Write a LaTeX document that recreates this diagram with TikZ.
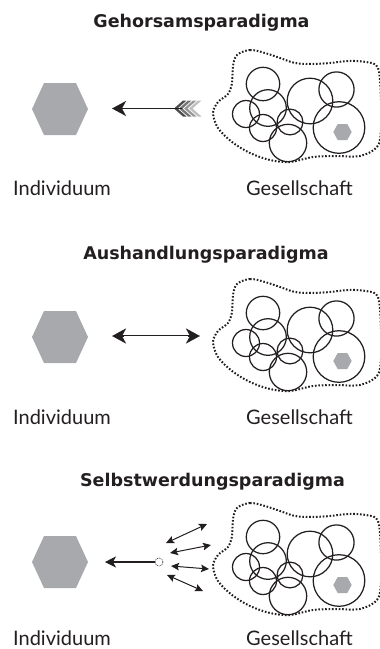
\documentclass[tikz,border=0pt]{standalone}
\usepackage{fontspec}
\setmainfont{Lato}
\newfontfamily\titlefont{DejaVu Sans}
\usetikzlibrary{arrows.meta}
\definecolor{hexgray}{RGB}{167,169,172}
\definecolor{inkblack}{RGB}{35,31,32}
\tikzset{
  hexfill/.style={fill=hexgray, draw=none},
  member/.style={draw=inkblack, line width=1.25pt},
  blobline/.style={draw=inkblack, line width=2pt, dash pattern=on 1.6pt off 1.8pt},
  paneltitle/.style={font=\titlefont\bfseries\fontsize{17.5}{20}\selectfont, anchor=base, inner sep=0pt, text=inkblack},
  lbl/.style={font=\fontsize{20}{24}\selectfont, anchor=base, inner sep=0pt, text=inkblack},
  bigtip/.tip={Stealth[length=14pt,width=15pt,inset=4pt]},
  midtip/.tip={Stealth[length=11pt,width=11pt,inset=3pt]},
  smalltip/.tip={Stealth[length=8pt,width=7.5pt,inset=1.5pt]},
  shaft/.style={draw=inkblack, line width=1.6pt},
  thinshaft/.style={draw=inkblack, line width=1.1pt},
  fanshaft/.style={draw=inkblack, line width=1pt, {smalltip}-{smalltip}},
}
\newcommand{\bighex}[1]{\fill[hexfill] (#1) +(-28,0) -- +(-16,-26) -- +(16,-26) -- +(28,0) -- +(16,26) -- +(-16,26) -- cycle;}
\newcommand{\smallhex}[1]{\fill[hexfill] (#1) +(-9.2,0) -- +(-4.8,-8) -- +(4.8,-8) -- +(9.2,0) -- +(4.8,8) -- +(-4.8,8) -- cycle;}
\newcommand{\society}[1]{%
  \draw[blobline] plot[smooth cycle, tension=0.55] coordinates {(237,55) (250,50) (265,53) (280,58) (295,63) (312,64) (330,63) (348,61) (366,62) (378,68) (381,100) (381,130) (377,147) (360,156) (335,156) (313,157) (290,162) (270,160) (250,153) (232,142) (218,128) (213,113) (218,102) (228,94) (232,83) (233,66)};
  \foreach \cx/\cy/\r in {263/84/16.7, 268/108/18.3, 246/114/13.5, 263/128/13.5, 290/122/12.9, 288/143/18.7, 310/101/22.8, 336.5/89.5/17.6, 339/127.5/25.8}
    \draw[member] (\cx,\cy) circle[radius=\r pt];
  \coordinate (#1hex) at (342.5,132);
  \smallhex{#1hex}
}
\begin{document}
\begin{tikzpicture}[x=1pt,y=-1pt]
\useasboundingbox (0,0) rectangle (380,649);
\clip (0,0) rectangle (380,649);

% ---------- Panel 1 ----------
\begin{scope}
  \node[paneltitle] (t1) at (201.5,27.3) {Gehorsamsparadigma};
  \coordinate (ind1) at (60,109);
  \bighex{ind1}
  \society{s1}
  \node[lbl] (li1) at (62,195) {Individuum};
  \node[lbl] (lg1) at (299.5,195) {Gesellschaft};
  \coordinate (a1tail) at (182,108.5);
  \coordinate (a1tip) at (112,108.5);
  \foreach \i/\c in {3/25,2/40,1/55,0/70}{
    \pgfmathsetmacro{\tx}{174+5*\i}
    \fill[black!\c] (\tx,108.5) -- (\tx+9,100.5) -- (\tx+12.5,100.5) -- (\tx+3.5,108.5) -- (\tx+12.5,116.5) -- (\tx+9,116.5) -- cycle;
  }
  \draw[shaft,-{bigtip}] (a1tail) -- (a1tip);
\end{scope}

% ---------- Panel 2 ----------
\begin{scope}[yshift=-229pt]
  \node[paneltitle] (t2) at (206,30.3) {Aushandlungsparadigma};
  \coordinate (ind2) at (60,108);
  \bighex{ind2}
  \society{s2}
  \node[lbl] (li2) at (62,195) {Individuum};
  \node[lbl] (lg2) at (299.5,195) {Gesellschaft};
  \coordinate (a2l) at (112,107);
  \coordinate (a2r) at (200,107);
  \draw[draw=inkblack, line width=2.6pt, {bigtip}-{bigtip}] (a2l) -- (a2r);
  \draw[white, line width=0.9pt, shorten <=12pt, shorten >=12pt] (a2l) -- (a2r);
\end{scope}

% ---------- Panel 3 ----------
\begin{scope}[yshift=-453pt]
  \node[paneltitle] (t3) at (212.5,33.7) {Selbstwerdungsparadigma};
  \coordinate (ind3) at (60,109);
  \bighex{ind3}
  \society{s3}
  \node[lbl] (li3) at (62,192.5) {Individuum};
  \node[lbl] (lg3) at (299.5,192.5) {Gesellschaft};
  \node[circle, draw=inkblack, line width=0.6pt, dash pattern=on 0.9pt off 0.9pt, minimum size=8pt, inner sep=0pt] (src) at (159,109) {};
  \coordinate (a3tip) at (105,109);
  \draw[thinshaft,-{midtip}] (src.west) -- (a3tip);
  \coordinate (f1a) at (166,90);  \coordinate (f1b) at (207,71);
  \coordinate (f2a) at (170,100); \coordinate (f2b) at (211,92);
  \coordinate (f3a) at (171,113); \coordinate (f3b) at (209,116);
  \coordinate (f4a) at (167,122); \coordinate (f4b) at (203,138);
  \draw[fanshaft] (f1a) -- (f1b);
  \draw[fanshaft] (f2a) -- (f2b);
  \draw[fanshaft] (f3a) -- (f3b);
  \draw[fanshaft] (f4a) -- (f4b);
\end{scope}
\end{tikzpicture}
\end{document}
